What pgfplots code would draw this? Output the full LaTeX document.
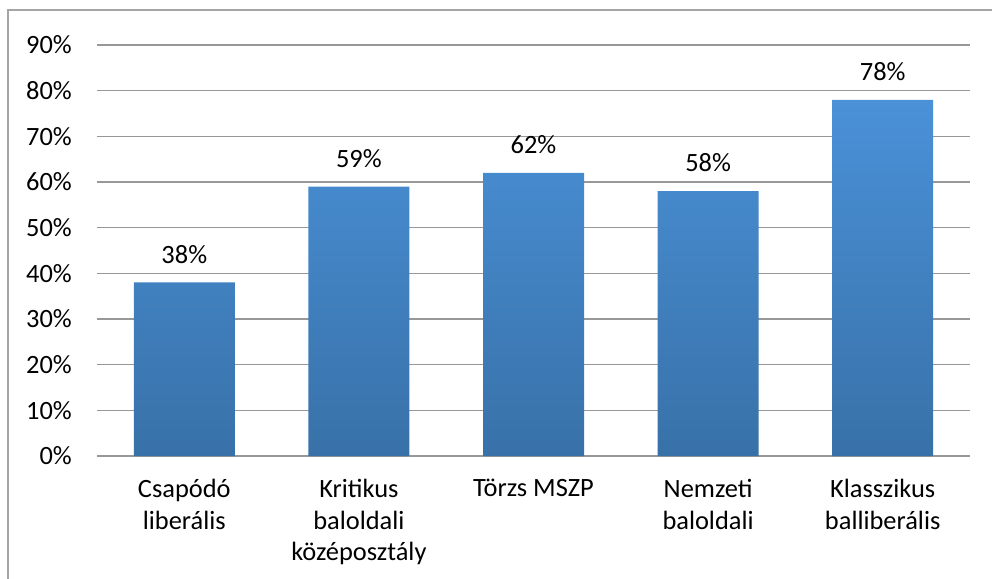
\documentclass[border=0pt]{standalone}
\usepackage{pgfplots}
\pgfplotsset{compat=1.18}
\usepackage{fontspec}
\setmainfont{Carlito}
\definecolor{bartop}{RGB}{74,145,216}
\definecolor{barbottom}{RGB}{56,113,168}
\definecolor{gridgray}{RGB}{152,152,152}
\definecolor{framegray}{RGB}{165,165,165}
\newcommand{\chartfont}{\fontsize{13.2bp}{15.8bp}\selectfont}
\begin{document}
\chartfont
\begin{tikzpicture}[x=1bp,y=1bp]
    \useasboundingbox (0,0) rectangle (496,289);
    % outer chart frame (only top and left edges lie inside the picture)
    \draw[framegray, line width=0.8bp] (4,-5) -- (4,284) -- (505,284);
    \begin{axis}[
        at={(48.5bp,61bp)},
        anchor=south west,
        scale only axis,
        width=436.5bp,
        height=205.5bp,
        ybar,
        bar width=50.5bp,
        xmin=-0.5, xmax=4.5,
        ymin=0, ymax=90,
        xtick=data,
        xticklabels={Csapódó\\liberális, Kritikus\\baloldali\\középosztály, Törzs MSZP, Nemzeti\\baloldali, Klasszikus\\balliberális},
        ytick={0,10,...,90},
        yticklabel={\pgfmathprintnumber{\tick}\%},
        /pgf/number format/assume math mode=true,
        major tick length=0pt,
        axis line style={draw=none},
        ymajorgrids,
        major grid style={gridgray, line width=0.75bp},
        yticklabel style={font=\chartfont, xshift=-8bp},
        xticklabel style={font=\chartfont, align=center, yshift=-7bp},
        nodes near coords={\pgfmathprintnumber{\pgfplotspointmeta}\%},
        every node near coord/.append style={font=\chartfont, yshift=5bp},
        ]
        \addplot[draw=none, top color=bartop, bottom color=barbottom]
            coordinates {(0,38) (1,59) (2,62) (3,58) (4,78)};
    \end{axis}
\end{tikzpicture}
\end{document}
